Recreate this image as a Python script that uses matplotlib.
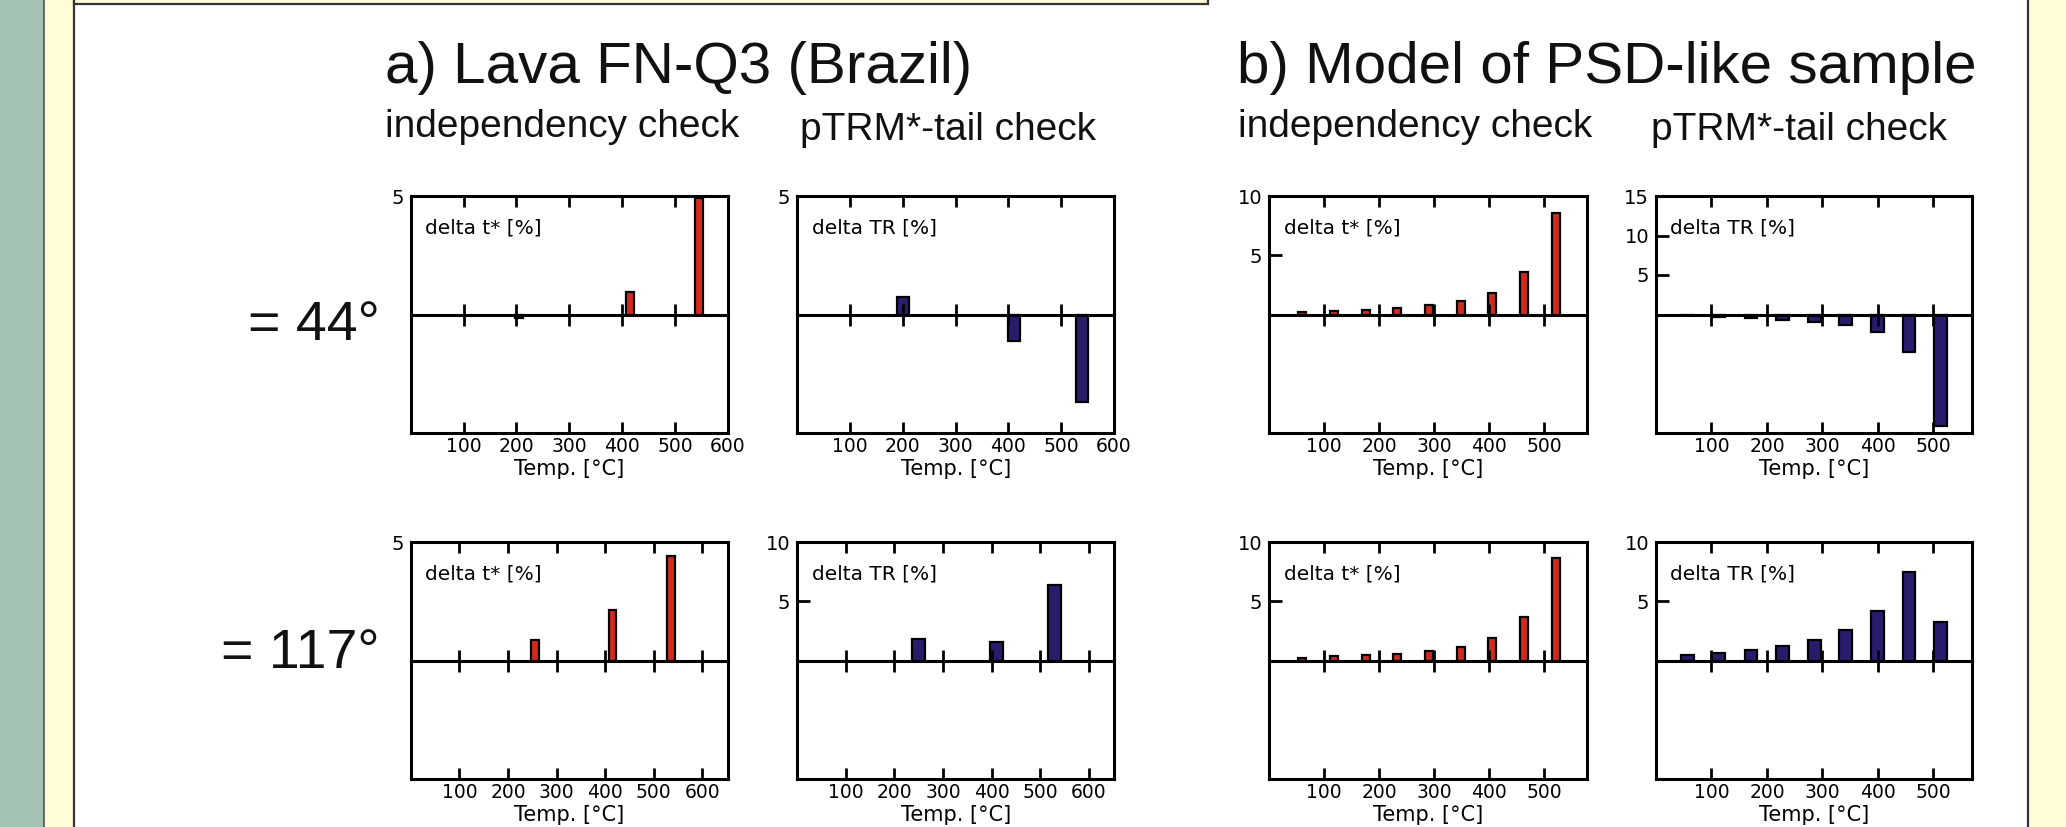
import matplotlib
matplotlib.use('Agg')
import matplotlib.pyplot as plt
from matplotlib.patches import Rectangle

# ---------------- data ----------------
a_xticks_r1 = [100, 200, 300, 400, 500, 600]
a_xticks_r2 = [100, 200, 300, 400, 500, 600]
b_xticks = [100, 200, 300, 400, 500]

# a) Lava FN-Q3, row 1 (= 44°)
a1_r1_temp = [205, 415, 545]
a1_r1_val = [-0.15, 0.95, 4.9]
a2_r1_temp = [200, 410, 540]
a2_r1_val = [0.75, -1.1, -3.7]
# a) row 2 (= 117°)
a1_r2_temp = [255, 415, 535]
a1_r2_val = [0.88, 2.15, 4.4]
a2_r2_temp = [250, 410, 530]
a2_r2_val = [1.85, 1.6, 6.35]

# b) Model of PSD-like sample
b1_temp = [60, 118, 176, 233, 291, 349, 405, 463, 521]
b2_temp = [57, 113, 171, 228, 285, 342, 399, 456, 513]
b1_r1_val = [0.2, 0.28, 0.42, 0.56, 0.76, 1.12, 1.82, 3.55, 8.6]
b2_r1_val = [-0.1, -0.3, -0.47, -0.67, -0.92, -1.3, -2.27, -4.75, -14.1]
b1_r2_val = [0.22, 0.34, 0.45, 0.59, 0.79, 1.15, 1.91, 3.65, 8.65]
b2_r2_val = [0.45, 0.65, 0.9, 1.26, 1.74, 2.61, 4.15, 7.47, 3.26]

titles = ["a) Lava FN-Q3 (Brazil)", "b) Model of PSD-like sample"]
subtitles = ["independency check", "pTRM*-tail check"]
row_labels = ["= 44°", "= 117°"]
label_t = "delta t* [%]"
label_tr = "delta TR [%]"
xlabel = "Temp. [°C]"

RED = '#d42a1e'
NAVY = '#2a1c6c'

# ---------------- figure ----------------
plt.rcParams['font.family'] = ['DejaVu Sans']
W, H = 2066, 827
fig = plt.figure(figsize=(W / 100, H / 100), dpi=100)
fig.patch.set_facecolor('white')


def fx(x):
    return x / W


def fy(y):
    return 1 - y / H


# slide background
fig.add_artist(Rectangle((0, -0.1), fx(44), 1.2, facecolor='#a4c2b1', edgecolor='none',
                         transform=fig.transFigure, zorder=-30))
fig.add_artist(Rectangle((fx(44), -0.1), 1.0, 1.2, facecolor='#fffcd8', edgecolor='#555555',
                         lw=1.2, transform=fig.transFigure, zorder=-29))
fig.add_artist(Rectangle((fx(73.5), -0.1), fx(2028) - fx(73.5), 1.2, facecolor='white',
                         edgecolor='#333333', lw=1.6, transform=fig.transFigure, zorder=-28))
fig.add_artist(Rectangle((fx(73.5), fy(3.5)), fx(1208) - fx(73.5), 0.1, facecolor='#fffcd8',
                         edgecolor='#333333', lw=1.6, transform=fig.transFigure, zorder=-27))

TFONT = ['Liberation Sans', 'DejaVu Sans']
TC = '#111111'
fig.text(fx(385), fy(83), titles[0], fontsize=42, family=TFONT, color=TC, va='baseline')
fig.text(fx(1237), fy(83), titles[1], fontsize=42, family=TFONT, color=TC, va='baseline')
fig.text(fx(385), fy(137), subtitles[0], fontsize=28, family=TFONT, color=TC, va='baseline')
fig.text(fx(800), fy(140), subtitles[1], fontsize=28, family=TFONT, color=TC, va='baseline')
fig.text(fx(1238), fy(137), subtitles[0], fontsize=28, family=TFONT, color=TC, va='baseline')
fig.text(fx(1651), fy(140), subtitles[1], fontsize=28, family=TFONT, color=TC, va='baseline')
fig.text(fx(380), fy(340), row_labels[0], fontsize=40, family=TFONT, color=TC,
         va='baseline', ha='right')
fig.text(fx(380), fy(668), row_labels[1], fontsize=40, family=TFONT, color=TC,
         va='baseline', ha='right')


def make_axes(l, r, t, b):
    return fig.add_axes([fx(l), fy(b), fx(r) - fx(l), (b - t) / H])


def panel(ax, temps, vals, color, width, xmax, xticks, ylim, yticks, label):
    ax.bar(temps, vals, width=width, color=color, edgecolor='black', linewidth=1.6, zorder=1)
    ax.set_xlim(0, xmax)
    ax.set_ylim(-ylim, ylim)
    ax.set_xticks(xticks)
    ax.set_yticks(yticks)
    ax.tick_params(axis='x', direction='in', top=True, bottom=True, length=8, width=2,
                   labelsize=13.5, pad=3)
    ax.tick_params(axis='y', direction='in', left=True, right=False, length=9, width=2,
                   labelsize=14, pad=5)
    for s in ax.spines.values():
        s.set_linewidth(2.2)
    ax.set_xlabel(xlabel, fontsize=15, labelpad=2)
    ax.text(0.045, 0.843, label, transform=ax.transAxes, fontsize=14.5, va='baseline')
    try:
        sec = ax.secondary_xaxis(0, transform=ax.transData)
    except TypeError:
        sec = ax.secondary_xaxis(0.5)
    sec.set_xticks(xticks)
    sec.tick_params(direction='inout', length=16, width=2, labeltop=False, labelbottom=False)
    for s in sec.spines.values():
        s.set_linewidth(2.2)
    sec.set_zorder(3)


R1 = (196, 433)
R2 = (542, 779)

ax = make_axes(410.7, 728, *R1)
panel(ax, a1_r1_temp, a1_r1_val, RED, 14, 600, a_xticks_r1, 5, [5], label_t)
ax = make_axes(797.3, 1114, *R1)
panel(ax, a2_r1_temp, a2_r1_val, NAVY, 23, 600, a_xticks_r1, 5, [5], label_tr)
ax = make_axes(1269.3, 1586.7, *R1)
panel(ax, b1_temp, b1_r1_val, RED, 14.5, 577, b_xticks, 10, [5, 10], label_t)
ax = make_axes(1656, 1972.3, *R1)
panel(ax, b2_temp, b2_r1_val, NAVY, 23, 570, b_xticks, 15, [5, 10, 15], label_tr)

ax = make_axes(410.7, 727.7, *R2)
panel(ax, a1_r2_temp, a1_r2_val, RED, 16, 652, a_xticks_r2, 5, [5], label_t)
ax = make_axes(797.3, 1114, *R2)
panel(ax, a2_r2_temp, a2_r2_val, NAVY, 26, 652, a_xticks_r2, 10, [5, 10], label_tr)
ax = make_axes(1269.3, 1586.7, *R2)
panel(ax, b1_temp, b1_r2_val, RED, 14.5, 577, b_xticks, 10, [5, 10], label_t)
ax = make_axes(1656, 1972.3, *R2)
panel(ax, b2_temp, b2_r2_val, NAVY, 23, 570, b_xticks, 10, [5, 10], label_tr)

fig.savefig('out.png', dpi=100)
